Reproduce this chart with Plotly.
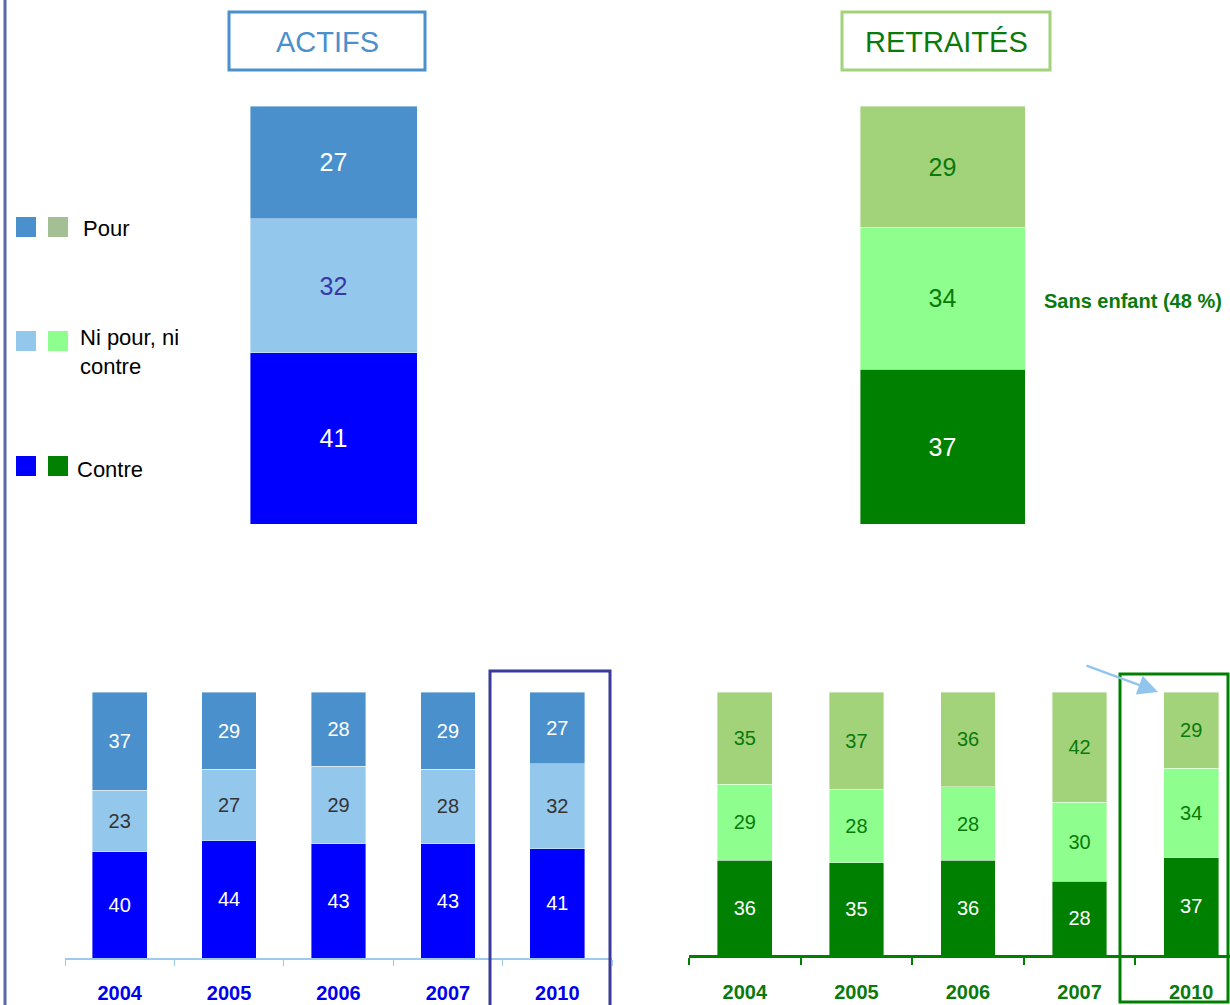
import plotly.graph_objects as go

W, H = 1230, 1005
FONT = "Liberation Sans, Arial, sans-serif"

years = ["2004", "2005", "2006", "2007", "2010"]
actifs_pour = [37, 29, 28, 29, 27]
actifs_ni = [23, 27, 29, 28, 32]
actifs_contre = [40, 44, 43, 43, 41]
retraites_pour = [35, 37, 36, 42, 29]
retraites_ni = [29, 28, 28, 30, 34]
retraites_contre = [36, 35, 36, 28, 37]

BLUE_POUR, BLUE_NI, BLUE_CONTRE = "#4a90cc", "#93c7ec", "#0000ff"
GREEN_POUR, GREEN_NI, GREEN_CONTRE = "#a2d27a", "#8eff8e", "#008000"
DKGREEN = "#0a7a0a"


def px(x):
    return x / W


def py(y):
    return 1 - y / H


fig = go.Figure()


def stack(xs, contre, ni, pour, colors, txtcolors, size, xa, ya, width):
    for vals, col, tc in zip((contre, ni, pour), colors, txtcolors):
        fig.add_trace(go.Bar(
            x=xs, y=vals, text=vals, width=width,
            textposition="inside", insidetextanchor="middle", textangle=0,
            textfont=dict(size=size, color=tc, family=FONT),
            marker=dict(color=col, line=dict(color="rgba(255,255,255,0.5)", width=0.8)),
            xaxis=xa, yaxis=ya, hoverinfo="x+y",
        ))


# top panels: 2010 only
stack([years[-1]], [actifs_contre[-1]], [actifs_ni[-1]], [actifs_pour[-1]],
      (BLUE_CONTRE, BLUE_NI, BLUE_POUR), ("white", "#3838a8", "white"), 25, "x", "y", 1)
stack([years[-1]], [retraites_contre[-1]], [retraites_ni[-1]], [retraites_pour[-1]],
      (GREEN_CONTRE, GREEN_NI, GREEN_POUR), ("white", DKGREEN, DKGREEN), 25, "x2", "y2", 1)

# bottom panels: evolution
stack(years, actifs_contre, actifs_ni, actifs_pour,
      (BLUE_CONTRE, BLUE_NI, BLUE_POUR), ("white", "#333333", "white"), 20, "x3", "y3", 0.5)
stack(years, retraites_contre, retraites_ni, retraites_pour,
      (GREEN_CONTRE, GREEN_NI, GREEN_POUR), ("white", DKGREEN, DKGREEN), 20, "x4", "y4", 0.49)

hidden = dict(visible=False, showgrid=False, zeroline=False)
top_y = dict(domain=[py(524), py(106)], range=[0, 100], **hidden)

fig.update_layout(
    width=W, height=H, margin=dict(l=0, r=0, t=0, b=0),
    paper_bgcolor="white", plot_bgcolor="white",
    barmode="stack", showlegend=False,
    font=dict(family=FONT),
    xaxis=dict(domain=[px(250), px(417)], type="category", range=[-0.5, 0.5], **hidden),
    yaxis=top_y,
    xaxis2=dict(domain=[px(860), px(1025)], type="category", range=[-0.5, 0.5], **hidden),
    yaxis2=dict(anchor="x2", **top_y),
    xaxis3=dict(domain=[px(65), px(612)], type="category", range=[-0.5, 4.5], anchor="y3",
                showline=True, linecolor="#9dc9ea", linewidth=1.5,
                ticks="outside", tickson="boundaries", ticklen=6, tickcolor="#9dc9ea",
                showgrid=False, zeroline=False, ticklabelstandoff=16,
                tickfont=dict(size=20, color="#0000ee", family=FONT, weight="bold")),
    yaxis3=dict(domain=[py(958), py(692)], range=[0, 100], anchor="x3", **hidden),
    xaxis4=dict(domain=[px(689), 1], type="category",
                range=[-0.5, (W - 689) / 111.6 - 0.5], anchor="y4",
                showline=True, linecolor=GREEN_CONTRE, linewidth=3,
                ticks="outside", tickson="boundaries", ticklen=7, tickwidth=2,
                tickcolor=GREEN_CONTRE, showgrid=False, zeroline=False, ticklabelstandoff=17,
                tickfont=dict(size=20, color=DKGREEN, family=FONT, weight="bold")),
    yaxis4=dict(domain=[py(955), py(692)], range=[0, 100], anchor="x4", **hidden),
)


def rect(x0, y0, x1, y1, color, width=3, fill=None):
    fig.add_shape(type="rect", xref="paper", yref="paper",
                  x0=px(x0), x1=px(x1), y0=py(y1), y1=py(y0),
                  line=dict(color=color, width=width),
                  fillcolor=fill if fill else "rgba(0,0,0,0)")


def text(x, y, s, size, color, anchor="left", bold=False):
    fig.add_annotation(xref="paper", yref="paper", x=px(x), y=py(y), text=s,
                       showarrow=False, xanchor=anchor, yanchor="middle", align="left",
                       font=dict(size=size, color=color, family=FONT,
                                 weight="bold" if bold else "normal"))


# left rule
fig.add_shape(type="line", xref="paper", yref="paper", x0=px(5), x1=px(5), y0=0, y1=1,
              line=dict(color="#5a6aa0", width=3))

# titles
rect(229, 12, 425, 70, BLUE_POUR)
text(327, 42, "ACTIFS", 29, BLUE_POUR, anchor="center")
rect(842, 12, 1050, 70, GREEN_POUR)
text(946, 42, "RETRAITÉS", 29, DKGREEN, anchor="center")

# highlight boxes for 2010
rect(490, 671, 610, 1010, "#3a3a9a")
rect(1120, 674, 1228, 1002, GREEN_CONTRE)

# legend
for y0, cb, cg in ((217, BLUE_POUR, "#a3bf93"), (331, BLUE_NI, GREEN_NI), (456, BLUE_CONTRE, GREEN_CONTRE)):
    rect(16, y0, 36, y0 + 20, cb, width=0, fill=cb)
    rect(48, y0, 68, y0 + 20, cg, width=0, fill=cg)
text(81, 228, "Pour", 22, "black")
text(78, 352, "Ni pour, ni<br>contre", 22, "black")
text(75, 469, "Contre", 22, "black")

text(1042, 301, "Sans enfant (48 %)", 20, DKGREEN, bold=True)

# arrow to 2010 retraités
fig.add_annotation(xref="paper", yref="paper", x=px(1158), y=py(692),
                   ax=1085 - 1158, ay=665 - 692, text="", showarrow=True,
                   arrowhead=2, arrowsize=1.6, arrowwidth=2.5, arrowcolor="#92c5eb")

fig.write_html("out.html", config={"displayModeBar": False},
               post_script="document.body.style.margin='0';document.body.style.overflow='hidden';")
